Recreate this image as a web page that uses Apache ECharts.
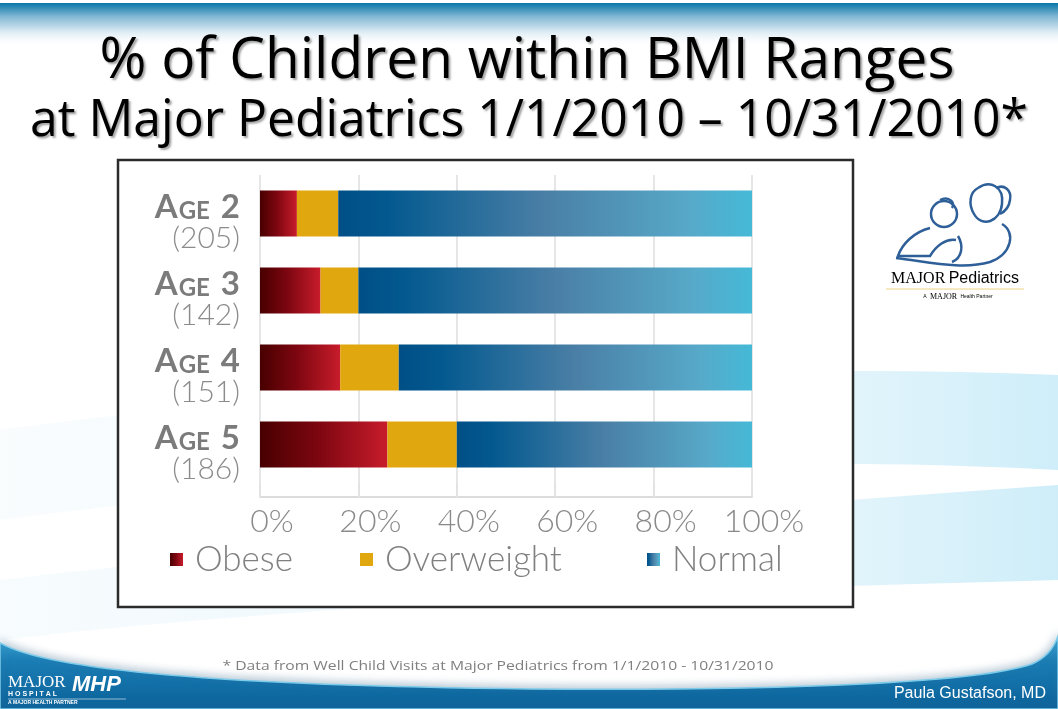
<!DOCTYPE html>
<html>
<head>
<meta charset="utf-8">
<title>% of Children within BMI Ranges</title>
<script src="https://cdn.jsdelivr.net/npm/echarts@6/dist/echarts.min.js"></script>
<style>
  html, body { margin: 0; padding: 0; background: #fff; }
  #chart { width: 1058px; height: 709px; }
</style>
</head>
<body>
<div id="chart"></div>
<script>
// chart data
const ages = ['Age 2', 'Age 3', 'Age 4', 'Age 5'];
const counts = ['205', '142', '151', '186'];
const obese = [7.5, 12.3, 16.3, 25.9];
const overweight = [8.4, 7.7, 11.9, 14.1];
const normal = [84.1, 80.0, 71.8, 60.0];
const tickStep = 20; // 0% .. 100%

const G = echarts.graphic;
const chartFont = 'Lato, "Open Sans", sans-serif';

// graphic component has no plain 'path' type, so register the decorative shapes
function pathShape(name, d) {
  G.registerShape(name, G.extendPath(d, {}));
  return name;
}

// squeeze a Calibri-like line into the width it has on the slide
function fitScale(text, font, target) {
  const ctx = document.createElement('canvas').getContext('2d');
  ctx.font = font;
  return target / ctx.measureText(text).width;
}

const title1 = '% of Children within BMI Ranges';
const title2 = 'at Major Pediatrics 1/1/2010 \u2013 10/31/2010*';
const note = '* Data from Well Child Visits at Major Pediatrics from 1/1/2010 - 10/31/2010';
const s1 = fitScale(title1, '56px "Open Sans"', 855);
const s2 = fitScale(title2, '52px "Open Sans"', 998);
const s3 = fitScale(note, '13px "Open Sans"', 551);

const obeseColor = new G.LinearGradient(0, 0, 1, 0, [
  { offset: 0, color: '#480000' },
  { offset: 0.45, color: '#7c0610' },
  { offset: 1, color: '#c81c2b' }
]);
const normalColor = new G.LinearGradient(0, 0, 1, 0, [
  { offset: 0, color: '#004f87' },
  { offset: 0.12, color: '#03598f' },
  { offset: 0.5, color: '#4a7fa6' },
  { offset: 0.85, color: '#57a9c9' },
  { offset: 1, color: '#45b9d7' }
]);

const logoLine = { fill: 'none', stroke: '#2e5f98', lineWidth: 2.5 };

const chart = echarts.init(document.getElementById('chart'));

const option = {
  backgroundColor: '#ffffff',
  animation: false,
  graphic: [
    // top band
    {
      type: 'rect', z: -20, silent: true,
      shape: { x: 0, y: 3, width: 1058, height: 44 },
      style: {
        fill: new G.LinearGradient(0, 0, 0, 1, [
          { offset: 0, color: '#0676a8' },
          { offset: 0.3, color: '#7fb6d3' },
          { offset: 0.65, color: '#dbeaf3' },
          { offset: 1, color: 'rgba(255,255,255,0)' }
        ])
      }
    },
    // faint swooshes in the background
    {
      type: pathShape('swoosh1', 'M0,430 C300,390 700,360 1058,375 L1058,470 C700,450 300,480 0,520 Z'),
      z: -19, silent: true,
      style: {
        fill: new G.LinearGradient(0, 0, 1, 0, [
          { offset: 0, color: 'rgba(215,238,248,0.15)' },
          { offset: 0.75, color: 'rgba(205,236,248,0.5)' },
          { offset: 1, color: 'rgba(190,232,247,0.75)' }
        ])
      }
    },
    {
      type: pathShape('swoosh2', 'M0,580 C350,540 700,510 1058,485 L1058,580 C700,590 350,600 0,640 Z'),
      z: -19, silent: true,
      style: {
        fill: new G.LinearGradient(0, 0, 1, 0, [
          { offset: 0, color: 'rgba(215,238,248,0.2)' },
          { offset: 0.75, color: 'rgba(205,236,248,0.5)' },
          { offset: 1, color: 'rgba(185,230,246,0.7)' }
        ])
      }
    },
    // chart frame
    {
      type: 'rect', z: -10, silent: true,
      shape: { x: 118, y: 160, width: 735, height: 447 },
      style: { fill: '#ffffff', stroke: '#2b2b2b', lineWidth: 2.5 }
    },
    // titles
    {
      type: 'text', z: 10, x: 527, y: 62, scaleX: s1,
      style: {
        text: title1, x: 0, y: 0, align: 'center', verticalAlign: 'middle',
        font: '56px "Open Sans"', fill: '#000',
        textShadowColor: 'rgba(0,0,0,0.35)', textShadowOffsetX: 2, textShadowOffsetY: 2, textShadowBlur: 2
      }
    },
    {
      type: 'text', z: 10, x: 529, y: 121, scaleX: s2,
      style: {
        text: title2, x: 0, y: 0, align: 'center', verticalAlign: 'middle',
        font: '52px "Open Sans"', fill: '#000',
        textShadowColor: 'rgba(0,0,0,0.35)', textShadowOffsetX: 2, textShadowOffsetY: 2, textShadowBlur: 2
      }
    },
    // logo on the right
    {
      type: 'group', z: 10, silent: true,
      children: [
        { type: 'circle', shape: { cx: 944, cy: 214, r: 13 }, style: logoLine },
        { type: pathShape('logoA', 'M940,200 C948,196 956,202 952,208'), style: logoLine },
        { type: pathShape('logoB', 'M978,188 C990,180 1004,186 1002,204 C1000,222 982,228 974,214 C968,204 970,192 978,188'), style: logoLine },
        { type: pathShape('logoC', 'M996,188 C1004,184 1012,190 1010,200 C1009,208 1004,212 1000,214'), style: logoLine },
        { type: pathShape('logoD', 'M930,228 C914,232 902,244 898,256 L930,256 C936,246 946,238 956,240'), style: logoLine },
        { type: pathShape('logoE', 'M896,258 C930,262 962,270 990,262 C1012,254 1016,232 1002,224'), style: logoLine },
        { type: pathShape('logoF', 'M958,236 C964,246 962,258 952,262'), style: logoLine },
        {
          type: 'text', x: 955, y: 279,
          style: {
            text: '{m|MAJOR} {p|Pediatrics}', align: 'center', verticalAlign: 'middle',
            rich: {
              m: { fontFamily: '"Liberation Serif", serif', fontSize: 16, color: '#2a6e9c' },
              p: { fontFamily: '"Liberation Sans", sans-serif', fontSize: 16, color: '#4a4f5a' }
            }
          }
        },
        { type: 'line', shape: { x1: 886, y1: 289, x2: 1024, y2: 289 }, style: { stroke: '#ecd487', lineWidth: 1 } },
        {
          type: 'text', x: 958, y: 297,
          style: {
            text: '{a|A} {m|MAJOR} {a|Health Partner}', align: 'center', verticalAlign: 'middle',
            rich: {
              a: { fontFamily: '"Liberation Sans", sans-serif', fontSize: 5, color: '#777' },
              m: { fontFamily: '"Liberation Serif", serif', fontSize: 8, color: '#2a6e9c' }
            }
          }
        }
      ]
    },
    // footer band
    {
      type: pathShape('footer', 'M0,643 C50,672 250,686 530,689 C800,691 980,682 1032,664 C1046,658 1054,648 1058,636 L1058,709 L0,709 Z'),
      z: 5, silent: true,
      style: {
        fill: new G.LinearGradient(0, 0, 0, 1, [
          { offset: 0, color: '#3aa6d6' },
          { offset: 0.35, color: '#1a7db4' },
          { offset: 1, color: '#0a6199' }
        ]),
        stroke: '#7ccbea', lineWidth: 1.5,
        shadowColor: 'rgba(90,130,160,0.45)', shadowBlur: 8, shadowOffsetY: -2
      }
    },
    {
      type: 'text', z: 10, x: 498, y: 666, scaleX: s3,
      style: { text: note, x: 0, y: 0, align: 'center', verticalAlign: 'middle', font: '13px "Open Sans"', fill: '#7f7f7f' }
    },
    {
      type: 'text', z: 10, x: 1046, y: 694,
      style: { text: 'Paula Gustafson, MD', align: 'right', verticalAlign: 'middle', font: '16px "Liberation Sans"', fill: '#ffffff' }
    },
    // hospital logo bottom left
    {
      type: 'text', z: 10, x: 8, y: 683,
      style: { text: 'MAJOR', align: 'left', verticalAlign: 'middle', font: '17px "Liberation Serif"', fill: '#ffffff' }
    },
    {
      type: 'text', z: 10, x: 8, y: 694,
      style: { text: 'H O S P I T A L', align: 'left', verticalAlign: 'middle', font: 'bold 7px "Liberation Sans"', fill: '#ffffff' }
    },
    {
      type: 'text', z: 10, x: 72, y: 685,
      style: { text: 'MHP', align: 'left', verticalAlign: 'middle', font: 'italic bold 22px "Liberation Sans"', fill: '#ffffff' }
    },
    { type: 'line', z: 10, silent: true, shape: { x1: 8, y1: 699, x2: 126, y2: 699 }, style: { stroke: 'rgba(255,255,255,0.8)', lineWidth: 0.7 } },
    {
      type: 'text', z: 10, x: 8, y: 703,
      style: { text: 'A MAJOR HEALTH PARTNER', align: 'left', verticalAlign: 'middle', font: 'bold 5px "Liberation Sans"', fill: '#ffffff' }
    }
  ],
  grid: { left: 260, width: 492, top: 175, height: 308 },
  xAxis: {
    type: 'value',
    min: 0,
    max: 100,
    interval: tickStep,
    offset: 14,
    axisLine: { show: true, lineStyle: { color: '#dcdcdc', width: 2 } },
    axisTick: { show: true, inside: true, length: 14, lineStyle: { color: '#e3e3e3', width: 2 } },
    splitLine: { show: true, lineStyle: { color: '#e6e6e6', width: 2 } },
    axisLabel: {
      formatter: '{value}%',
      margin: 9,
      padding: [0, 0, 0, 24],
      fontFamily: chartFont,
      fontWeight: 300,
      fontSize: 32,
      color: '#8a8a8a'
    }
  },
  yAxis: {
    type: 'category',
    inverse: true,
    data: ages,
    axisLine: { show: false },
    axisTick: { show: false },
    axisLabel: {
      margin: 20,
      padding: [20, 0, 0, 0],
      formatter: function (value, idx) {
        const n = value.split(' ')[1];
        return '{a|A}{g|GE}{n|' + n + '}\n{c|(' + counts[idx] + ')}';
      },
      rich: {
        a: { fontFamily: chartFont, fontWeight: 'bold', fontSize: 33, color: '#7b7b7b', lineHeight: 29, verticalAlign: 'bottom' },
        g: { fontFamily: chartFont, fontWeight: 'bold', fontSize: 24, color: '#7b7b7b', lineHeight: 29, verticalAlign: 'bottom', padding: [0, 1, 0, 1] },
        n: { fontFamily: chartFont, fontWeight: 'bold', fontSize: 33, color: '#7b7b7b', lineHeight: 29, verticalAlign: 'bottom', padding: [0, 0, 0, 10] },
        c: { fontFamily: chartFont, fontWeight: 300, fontSize: 30, color: '#8c8c8c', lineHeight: 29 }
      }
    }
  },
  legend: [
    { data: ['Obese'], left: 165, top: 537 },
    { data: ['Overweight'], left: 355, top: 537 },
    { data: ['Normal'], left: 642, top: 537 }
  ].map(function (l) {
    return Object.assign(l, {
      icon: 'rect', itemWidth: 13, itemHeight: 13, selectedMode: false,
      textStyle: { fontFamily: chartFont, fontWeight: 300, fontSize: 35, color: '#808080', padding: [0, 0, 0, 7] }
    });
  }),
  series: [
    { name: 'Obese', type: 'bar', stack: 'bmi', barWidth: 46, data: obese, itemStyle: { color: obeseColor } },
    { name: 'Overweight', type: 'bar', stack: 'bmi', barWidth: 46, data: overweight, itemStyle: { color: '#e1a70e' } },
    { name: 'Normal', type: 'bar', stack: 'bmi', barWidth: 46, data: normal, itemStyle: { color: normalColor } }
  ]
};

chart.setOption(option);
</script>
</body>
</html>
